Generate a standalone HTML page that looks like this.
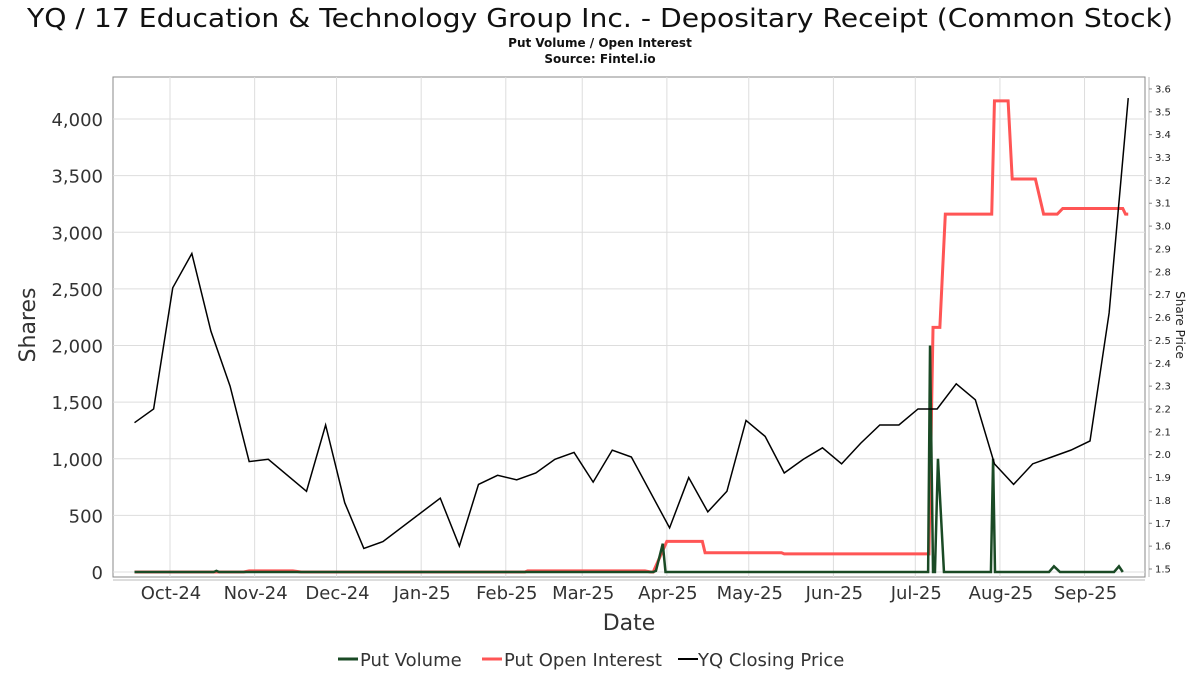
<!DOCTYPE html>
<html><head><meta charset="utf-8"><style>
body{margin:0;background:#fff;}
svg{display:block;font-family:"DejaVu Sans","Liberation Sans",sans-serif;}
</style></head><body>
<svg id="c" width="1200" height="675" viewBox="0 0 1200 675">
<text x="600" y="27" text-anchor="middle" font-size="26" textLength="1146" lengthAdjust="spacingAndGlyphs" fill="#111">YQ / 17 Education &amp; Technology Group Inc. - Depositary Receipt (Common Stock)</text>
<text x="600" y="47" text-anchor="middle" font-size="12" font-weight="bold" fill="#111">Put Volume / Open Interest</text>
<text x="600" y="63" text-anchor="middle" font-size="12" font-weight="bold" fill="#111">Source: Fintel.io</text>
<rect x="113" y="77" width="1032" height="500" fill="#fff" stroke="#888"/>
<g id="grid"></g><g id="axes"></g><g id="series"></g>
<text x="35" y="325" transform="rotate(-90 35 325)" text-anchor="middle" font-size="22" fill="#333">Shares</text>
<text x="1176" y="325" transform="rotate(90 1176 325)" text-anchor="middle" font-size="12" fill="#222">Share Price</text>
<text x="629" y="630" text-anchor="middle" font-size="22" fill="#333">Date</text>
<g font-size="18" fill="#333">
<line x1="338" y1="659" x2="358" y2="659" stroke="#1a4a25" stroke-width="3"/>
<text x="360" y="666">Put Volume</text>
<line x1="482" y1="659" x2="502" y2="659" stroke="#ff5555" stroke-width="3"/>
<text x="504" y="666">Put Open Interest</text>
<line x1="678" y1="659" x2="698" y2="659" stroke="#000" stroke-width="2"/>
<text x="698" y="666">YQ Closing Price</text>
</g>
</svg>
<script>
// days measured from 2024-10-01
const monthLabels = ["Oct-24","Nov-24","Dec-24","Jan-25","Feb-25","Mar-25","Apr-25","May-25","Jun-25","Jul-25","Aug-25","Sep-25"];
const monthDays = [0,31,61,92,123,151,182,212,243,273,304,335];
const leftTicks = [0,500,1000,1500,2000,2500,3000,3500,4000];
const rightTicks = [1.5,1.6,1.7,1.8,1.9,2.0,2.1,2.2,2.3,2.4,2.5,2.6,2.7,2.8,2.9,3.0,3.1,3.2,3.3,3.4,3.5,3.6];
const priceWeeks = [0,1,2,3,4,5,6,7,9,10,11,12,13,16,17,18,19,20,21,22,23,24,25,26,28,29,30,31,32,33,34,35,36,37,38,39,40,41,42,43,44,45,46,47,48,49,50,51,52];
const priceValues = [2.14,2.20,2.73,2.88,2.54,2.30,1.97,1.98,1.84,2.13,1.79,1.59,1.62,1.81,1.60,1.87,1.91,1.89,1.92,1.98,2.01,1.88,2.02,1.99,1.68,1.90,1.75,1.84,2.15,2.08,1.92,1.98,2.03,1.96,2.05,2.13,2.13,2.20,2.20,2.31,2.24,1.96,1.87,1.96,1.99,2.02,2.06,2.62,3.56];
const oiDays = [-13,27,29,45,48,130,131,174,176,177,182,183,195,196,224,225,278,279.5,282,284,301,302,307,308.5,317,320,325,327,349,350,351];
const oiValues = [0,0,10,10,0,0,10,10,0,0,270,270,270,170,170,160,160,2160,2160,3160,3160,4160,4160,3470,3470,3160,3160,3210,3210,3160,3160];
const volDays = [-13,16,17,18,177,178,180.5,181.5,277.7,278.4,279.5,280.2,281.3,283.5,300.7,301.5,302.2,322,323.8,326,345.8,347.6,349];
const volValues = [0,0,10,0,0,10,250,0,0,2000,0,0,1000,0,0,1000,0,0,50,0,0,50,0];

const NS="http://www.w3.org/2000/svg";
const X0=170, PXD=2.73;
const xS=d=>X0+PXD*d;
const yL=v=>572-0.11325*v;
const yR=p=>569-(p-1.5)*228.6;
function mk(tag,attrs,parent){const e=document.createElementNS(NS,tag);for(const k in attrs)e.setAttribute(k,attrs[k]);parent.appendChild(e);return e;}
const grid=document.getElementById('grid'), axes=document.getElementById('axes'), ser=document.getElementById('series');
leftTicks.forEach(v=>{
  const l=mk('line',{x1:113,x2:1145,y1:yL(v),y2:yL(v),stroke:'#ddd'},grid);
  
  
  const t=mk('text',{x:103,y:yL(v)+7,'text-anchor':'end','font-size':18,fill:'#333'},axes);
  t.textContent=v.toLocaleString('en-US');
  
  
});
monthDays.forEach((d,i)=>{
  const l=mk('line',{x1:xS(d),x2:xS(d),y1:77,y2:577,stroke:'#ddd'},grid);
  
  
  const t=mk('text',{x:xS(d)+1,y:599,'text-anchor':'middle','font-size':18,fill:'#333'},axes);
  t.textContent=monthLabels[i];
  
  
});
const ax=mk('line',{x1:113,x2:1145,y1:580,y2:580,stroke:'#bbb'},axes);


const ax2=mk('line',{x1:1149,x2:1149,y1:77,y2:577,stroke:'#bbb'},axes);


rightTicks.forEach(p=>{
  mk('line',{x1:1149,x2:1152,y1:yR(p),y2:yR(p),stroke:'#888'},axes);
  const t=mk('text',{x:1155,y:yR(p)+3.5,'font-size':10,fill:'#222'},axes);
  t.textContent=p.toFixed(1);
  
  
});
const oi=mk('polyline',{points:oiDays.map((d,i)=>xS(d)+','+yL(oiValues[i])).join(' '),fill:'none',stroke:'#ff5555','stroke-width':3},ser);


const vol=mk('polyline',{points:volDays.map((d,i)=>xS(d)+','+yL(volValues[i])).join(' '),fill:'none',stroke:'#1a4a25','stroke-width':2.5},ser);


const pr=mk('polyline',{points:priceWeeks.map((k,i)=>xS(-13+7*k)+','+yR(priceValues[i])).join(' '),fill:'none',stroke:'#000','stroke-width':1.5},ser);


</script>
</body></html>
